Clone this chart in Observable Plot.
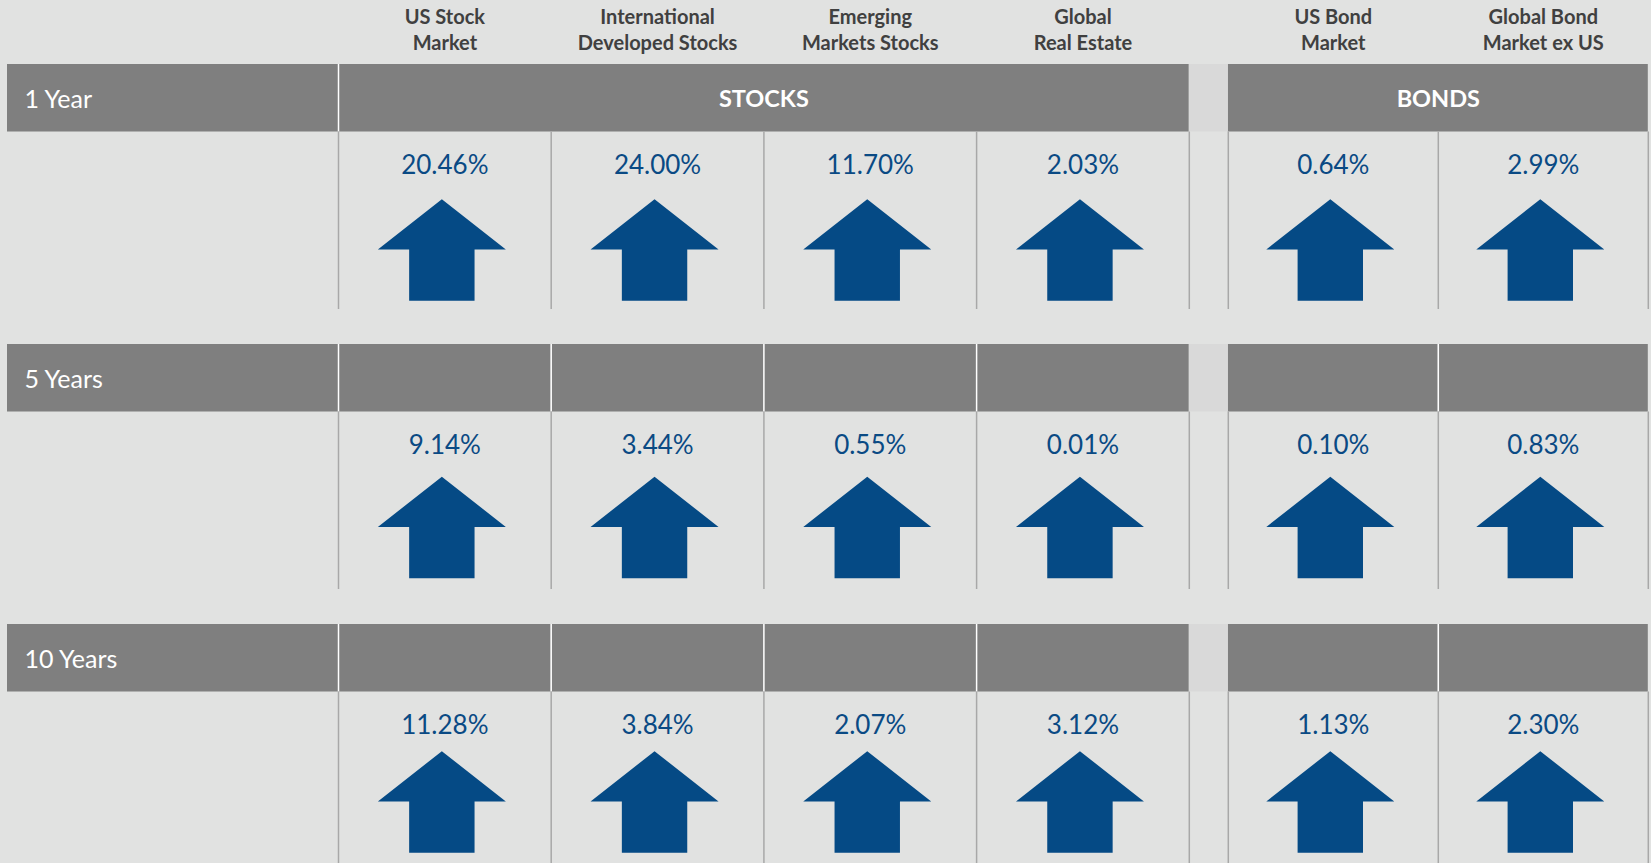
<!DOCTYPE html>
<html>
<head>
<meta charset="utf-8">
<script src="https://cdn.jsdelivr.net/npm/d3@7"></script>
<script src="https://cdn.jsdelivr.net/npm/@observablehq/plot@0.6"></script>
<style>
  html, body { margin: 0; padding: 0; background: #e1e2e1; }
  #chart svg { display: block; }
</style>
</head>
<body>
<div id="chart"></div>
<script>
// ---- data ----
const categories = ["US Stock\nMarket", "International\nDeveloped Stocks", "Emerging\nMarkets Stocks", "Global\nReal Estate", "US Bond\nMarket", "Global Bond\nMarket ex US"];
const groups = ["STOCKS", "STOCKS", "STOCKS", "STOCKS", "BONDS", "BONDS"];
const periods = ["1 Year", "5 Years", "10 Years"];
const returns1Y = [20.46, 24.00, 11.70, 2.03, 0.64, 2.99];
const returns5Y = [9.14, 3.44, 0.55, 0.01, 0.10, 0.83];
const returns10Y = [11.28, 3.84, 2.07, 3.12, 1.13, 2.30];
const seriesByPeriod = [returns1Y, returns5Y, returns10Y];

// ---- layout (styling) ----
const W = 1651, H = 863;
const LEFT = 7, COL0 = 338, UNIT = 212.7, GAP_PX = 39;
const GROUP_WIDTH = {STOCKS: 1, BONDS: 210 / 212.7}; // relative column width per group
const GAP = GAP_PX / UNIT;
const LABELW = (COL0 - LEFT) / UNIT;
const TOP = 64, PITCH = 280;
const BAND = 67.5 / PITCH, BODY_END = 245 / PITCH;
const VALUE_Y = 101.5 / PITCH;
const ARROW_Y = [185.5, 183, 177.5].map(v => v / PITCH);
const HEADER_Y = -36 / PITCH;

const BAND_FILL = "#7f7f7f", GAP_FILL = "#d9d9d9", LINE = "#a8a8a8";
const BLUE = "#0a4a84", ARROW = "#054a85", HEAD = "#404040";

const groupNames = [...new Set(groups)];
const colW = groups.map(g => GROUP_WIDTH[g]);
const colX = [];
categories.forEach((c, i) => {
  colX.push(i === 0 ? 0 : colX[i - 1] + colW[i - 1] + (groups[i] !== groups[i - 1] ? GAP : 0));
});
const colEnd = i => colX[i] + colW[i];
const XMAX = colEnd(categories.length - 1);
const groupIdx = g => categories.map((_, i) => i).filter(i => groups[i] === g);

const rows = periods.map((p, r) => ({period: p, r}));
const cells = rows.flatMap(({r}) => categories.map((c, i) => ({r, i, x: colX[i] + colW[i] / 2, value: seriesByPeriod[r][i]})));

const labelSegs = rows.map(({r}) => ({r, x1: -LABELW, x2: 0}));
const bandSegs = rows.flatMap(({r}) => r === 0
  ? groupNames.map(g => { const ix = groupIdx(g); return {r, x1: colX[ix[0]], x2: colEnd(ix[ix.length - 1]), label: g}; })
  : categories.map((c, i) => ({r, x1: colX[i], x2: colEnd(i), label: ""})));
const gapSegs = rows.flatMap(({r}) => groupNames.slice(1).map((g, k) => {
  const prev = groupIdx(groupNames[k]), cur = groupIdx(g);
  return {r, x1: colEnd(prev[prev.length - 1]), x2: colX[cur[0]]};
}));
const whiteRules = rows.flatMap(({r}) => [{r, x: 0}, ...(r === 0 ? [] :
  categories.map((c, i) => i).filter(i => i > 0 && groups[i] === groups[i - 1]).map(i => ({r, x: colX[i]})))]);
const bodyRules = rows.flatMap(({r}) => [
  ...categories.map((c, i) => ({r, x: colX[i]})),
  ...groupNames.map(g => { const ix = groupIdx(g); return {r, x: colEnd(ix[ix.length - 1])}; })
]);

// block arrow symbol: r = half height
const blockArrow = {
  draw(ctx, size) {
    const r = Math.sqrt(size / Math.PI);
    const k = r / 50.8;
    const hw = 64 * k, sw = 32.7 * k, hh = 50.3 * k;
    ctx.moveTo(-sw, r);
    ctx.lineTo(-sw, -r + hh);
    ctx.lineTo(-hw, -r + hh);
    ctx.lineTo(0, -r);
    ctx.lineTo(hw, -r + hh);
    ctx.lineTo(sw, -r + hh);
    ctx.lineTo(sw, r);
    ctx.closePath();
  }
};

const chart = Plot.plot({
  width: W,
  height: H,
  margin: 0,
  style: {fontFamily: "Lato, 'Open Sans', sans-serif", background: "#e1e2e1", overflow: "visible"},
  x: {type: "linear", domain: [-LABELW, XMAX], range: [LEFT, COL0 + XMAX * UNIT], axis: null},
  y: {type: "linear", domain: [0, periods.length], range: [TOP, TOP + PITCH * periods.length], axis: null},
  marks: [
    // header band cells
    Plot.rect(labelSegs, {x1: "x1", x2: "x2", y1: d => d.r, y2: d => d.r + BAND, fill: BAND_FILL}),
    Plot.rect(bandSegs, {x1: "x1", x2: "x2", y1: d => d.r, y2: d => d.r + BAND, fill: BAND_FILL}),
    Plot.rect(gapSegs, {x1: "x1", x2: "x2", y1: d => d.r, y2: d => d.r + BAND, fill: GAP_FILL}),
    Plot.ruleX(whiteRules, {x: "x", y1: d => d.r, y2: d => d.r + BAND, stroke: "#ffffff", strokeWidth: 1.5}),
    // body grid lines
    Plot.ruleX(bodyRules, {x: "x", y1: d => d.r + BAND, y2: d => d.r + BODY_END, stroke: LINE, strokeWidth: 1.5}),
    // column headers
    Plot.text(categories, {x: (d, i) => colX[i] + colW[i] / 2, y: HEADER_Y, text: d => d, fill: HEAD, fontWeight: "bold", fontSize: 20, lineHeight: 1.3, lineAnchor: "middle"}),
    // period labels
    Plot.text(rows, {x: -LABELW, dx: 17, dy: 1.5, y: d => d.r + BAND / 2, text: "period", textAnchor: "start", fill: "#ffffff", fontSize: 25}),
    // group labels
    Plot.text(bandSegs.filter(d => d.label), {x: d => (d.x1 + d.x2) / 2, dy: 1.5, y: d => d.r + BAND / 2, text: "label", fill: "#ffffff", fontWeight: "bold", fontSize: 23.5}),
    // values
    Plot.text(cells, {x: "x", y: d => d.r + VALUE_Y, text: d => d.value.toFixed(2) + "%", fill: BLUE, fontSize: 26}),
    // arrows
    Plot.dot(cells.filter(d => d.value >= 0), {x: "x", dx: -3, y: d => d.r + ARROW_Y[d.r], r: 50.8, symbol: blockArrow, fill: ARROW, stroke: "none"})
  ]
});
document.getElementById("chart").appendChild(chart);
</script>
</body>
</html>
